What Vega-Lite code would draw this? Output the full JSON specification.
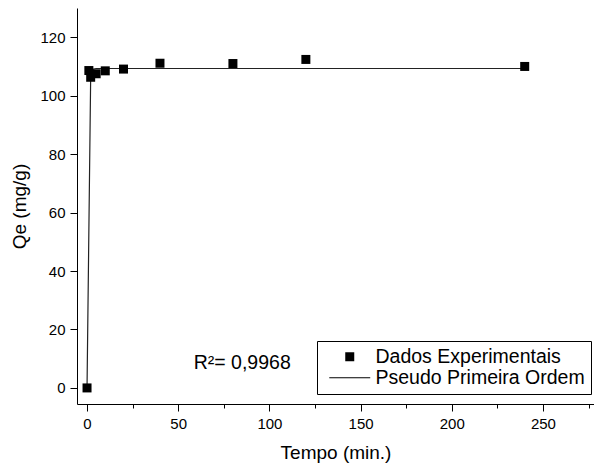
{
  "$schema": "https://vega.github.io/schema/vega-lite/v6.json",
  "width": 517,
  "height": 396,
  "autosize": {"type": "none"},
  "padding": {"left": 77, "top": 8, "right": 0, "bottom": 64},
  "background": "white",
  "config": {
    "font": "Liberation Sans",
    "view": {"stroke": null},
    "axis": {
      "domainColor": "black",
      "domainWidth": 1,
      "tickColor": "black",
      "tickWidth": 1,
      "labelColor": "black",
      "titleColor": "black",
      "labelFontSize": 15,
      "titleFontSize": 19,
      "titleFontWeight": "normal",
      "grid": false
    }
  },
  "datasets": {
    "exp": [
      {"t": 0, "q": 0, "s": "Dados Experimentais"},
      {"t": 1, "q": 108.6, "s": "Dados Experimentais"},
      {"t": 2, "q": 106.3, "s": "Dados Experimentais"},
      {"t": 5, "q": 107.5, "s": "Dados Experimentais"},
      {"t": 10, "q": 108.5, "s": "Dados Experimentais"},
      {"t": 20, "q": 109.1, "s": "Dados Experimentais"},
      {"t": 40, "q": 111.1, "s": "Dados Experimentais"},
      {"t": 80, "q": 111.0, "s": "Dados Experimentais"},
      {"t": 120, "q": 112.4, "s": "Dados Experimentais"},
      {"t": 240, "q": 110.0, "s": "Dados Experimentais"}
    ],
    "fit": [
      {"t": 0, "q": 0},
      {"t": 2, "q": 106.5},
      {"t": 3, "q": 109.0},
      {"t": 5, "q": 109.3},
      {"t": 240, "q": 109.3}
    ],
    "note": [
      {"t": 58.5, "q": 8.6, "label": "R²= 0,9968"}
    ]
  },
  "layer": [
    {
      "data": {"name": "fit"},
      "mark": {"type": "line", "color": "#222222", "strokeWidth": 1.2},
      "encoding": {
        "x": {
          "field": "t", "type": "quantitative",
          "scale": {"domain": [-5.5, 278], "nice": false, "zero": false},
          "axis": {
            "title": "Tempo (min.)",
            "values": [0, 25, 50, 75, 100, 125, 150, 175, 200, 225, 250, 275],
            "labelExpr": "datum.value % 50 === 0 ? datum.label : ''",
            "tickSize": {"condition": {"test": "datum.value % 50 !== 0", "value": 4}, "value": 7},
            "labelPadding": 5,
            "titlePadding": 12
          }
        },
        "y": {
          "field": "q", "type": "quantitative",
          "scale": {"domain": [-5.5, 130], "nice": false, "zero": false},
          "axis": {
            "title": "Qe (mg/g)",
            "values": [0, 10, 20, 30, 40, 50, 60, 70, 80, 90, 100, 110, 120],
            "labelExpr": "datum.value % 20 === 0 ? datum.label : ''",
            "tickSize": {"condition": {"test": "datum.value % 20 !== 0", "value": 4}, "value": 7},
            "labelPadding": 5,
            "titlePadding": 10
          }
        }
      }
    },
    {
      "data": {"name": "exp"},
      "mark": {"type": "point", "filled": true, "color": "black", "opacity": 1, "size": 81},
      "encoding": {
        "x": {"field": "t", "type": "quantitative"},
        "y": {"field": "q", "type": "quantitative"},
        "shape": {
          "field": "s", "type": "nominal",
          "scale": {"domain": ["Dados Experimentais", "Pseudo Primeira Ordem"], "range": ["square", "M-4.55,-0.12H4.55V0.12H-4.55Z"]},
          "legend": {
            "title": null,
            "orient": "none",
            "legendX": 240,
            "legendY": 333,
            "padding": 6,
            "strokeColor": "black",
            "fillColor": "white",
            "cornerRadius": 0,
            "labelFontSize": 19.5,
            "labelColor": "black",
            "labelFont": "Liberation Sans",
            "labelExpr": "datum.label + '   '",
            "symbolSize": 81,
            "symbolOffset": 17,
            "labelOffset": 16,
            "rowPadding": 0,
            "labelLimit": 400,
            "symbolFillColor": "black",
            "symbolStrokeWidth": 0,
            "symbolOpacity": 1
          }
        }
      }
    },
    {
      "data": {"name": "note"},
      "mark": {"type": "text", "fontSize": 19.5, "align": "left", "baseline": "middle", "color": "black", "font": "Liberation Sans"},
      "encoding": {
        "x": {"field": "t", "type": "quantitative"},
        "y": {"field": "q", "type": "quantitative"},
        "text": {"field": "label"}
      }
    }
  ]
}
